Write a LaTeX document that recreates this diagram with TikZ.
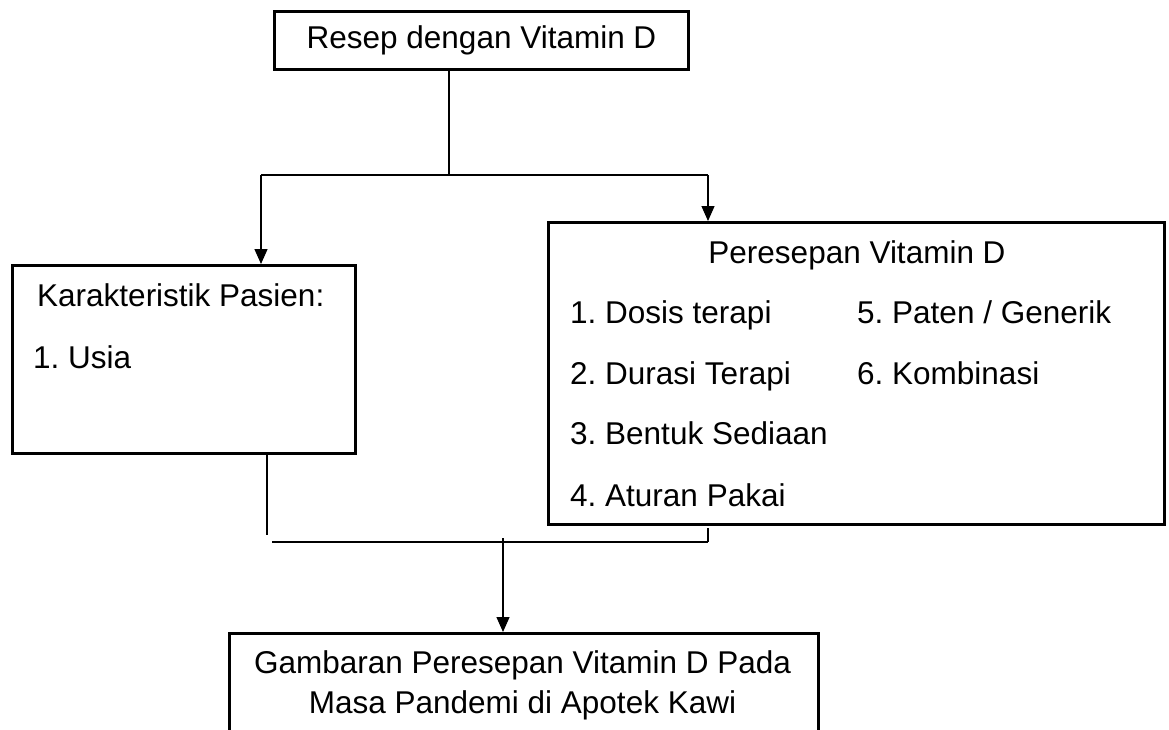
\documentclass[tikz,border=0pt]{standalone}
\usepackage{fontspec}
\setmainfont{Liberation Sans}
\usetikzlibrary{arrows.meta}
\frenchspacing
\begin{document}
\begin{tikzpicture}[x=1pt,y=-1pt,
  kotak/.style={draw, line width=3pt, inner sep=0pt, anchor=north west},
  teks/.style={font=\fontsize{31.5}{38}\selectfont, inner sep=0pt},
  garis/.style={line width=1.3pt},
  panah/.style={garis, -{Triangle[width=13pt,length=15pt]}}]
\clip (0,0) rectangle (1169,729);
\node[kotak, teks, inner sep=0pt, minimum width=414pt, minimum height=58pt] (resep) at (273,10){Resep dengan Vitamin D};
\node[kotak, minimum width=343pt, minimum height=188pt] (pasien) at (11,264){};
\node[teks, anchor=base west] (pasien0) at (37,306){Karakteristik Pasien:};
\node[teks, anchor=base west] (pasien1) at (33,368){1. Usia};
\node[kotak, minimum width=616pt, minimum height=302pt] (peresepan) at (547,221){};
\node[teks, anchor=base] (peresepan0) at (857,263){Peresepan Vitamin D};
\node[teks, anchor=base west] (peresepan1) at (570,323){1. Dosis terapi};
\node[teks, anchor=base west] (peresepan2) at (570,384){2. Durasi Terapi};
\node[teks, anchor=base west] (peresepan3) at (570,444){3. Bentuk Sediaan};
\node[teks, anchor=base west] (peresepan4) at (570,506){4. Aturan Pakai};
\node[teks, anchor=base west] (peresepan5) at (857,323){5. Paten / Generik};
\node[teks, anchor=base west] (peresepan6) at (857,384){6. Kombinasi};
\node[kotak, minimum width=589pt, minimum height=150pt] (hasil) at (228,632){};
\node[teks, anchor=base] (hasil1) at (522.5,673){Gambaran Peresepan Vitamin D Pada};
\node[teks, anchor=base] (hasil2) at (522.5,713){Masa Pandemi di Apotek Kawi};
\coordinate (cabang) at (449,175);
\coordinate (cabangKiri) at (261,175);
\coordinate (cabangKanan) at (708,175);
\coordinate (gabungKiri) at (267,535);
\coordinate (gabungA) at (272,542);
\coordinate (gabungB) at (708,542);
\coordinate (ujungKanan) at (708,528);
\coordinate (gabung) at (503,538);
\draw[garis](cabang |- resep.south) -- (cabang);
\draw[garis](cabangKiri) -- (cabangKanan);
\draw[panah](cabangKiri) -- (cabangKiri |- pasien.north);
\draw[panah](cabangKanan) -- (cabangKanan |- peresepan.north);
\draw[garis](gabungKiri |- pasien.south) -- (gabungKiri);
\draw[garis](gabungA) -- (gabungB);
\draw[garis](ujungKanan) -- (gabungB);
\draw[panah](gabung) -- (gabung |- hasil.north);
\end{tikzpicture}
\end{document}
